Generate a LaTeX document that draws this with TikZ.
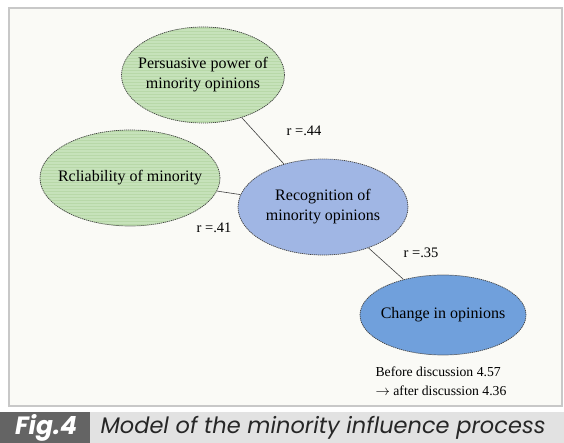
\documentclass[tikz,border=0pt]{standalone}
\usepackage{fontspec}
\setmainfont{Liberation Serif}
\newfontfamily\capfont{Poppins}
\usetikzlibrary{shapes.geometric}
\begin{document}
\begin{tikzpicture}[x=1pt,y=-1pt,
  every node/.style={font=\fontsize{16}{20}\selectfont},
  bubble/.style={ellipse, draw=black!75, dash pattern=on 1.2pt off 0.8pt, line width=0.7pt,
    inner sep=0pt},
  caption text/.style={label={[align=center]center:#1}},
  greenbubble/.style={bubble, fill=leafgreen,
    path picture={\foreach \k in {-60,-57,...,60}
      \draw[solid, stripe, line width=1.2pt] ([yshift=\k]path picture bounding box.west) -- ([yshift=\k]path picture bounding box.east);}},
  link/.style={draw=black!75, line width=0.6pt},
  rlabel/.style={font=\fontsize{14.5}{16}\selectfont}
]
\definecolor{leafgreen}{RGB}{184,216,168}
\definecolor{stripe}{RGB}{198,226,186}
\definecolor{paleblue}{RGB}{160,182,228}
\definecolor{midblue}{RGB}{112,160,220}
\definecolor{paper}{RGB}{250,250,246}
\definecolor{framegray}{RGB}{200,200,200}
\definecolor{tagdark}{RGB}{100,100,100}
\definecolor{barlight}{RGB}{226,226,226}

\useasboundingbox (0,0) rectangle (564,443);
\fill[white] (0,0) rectangle (564,443);
% panel
\draw[framegray, fill=paper, line width=1.2pt] (9,8) rectangle (562,406);

% ellipses (fixed size, text set as a centred label)
\node[greenbubble, minimum width=163pt, minimum height=96pt,
  caption text={Persuasive power of\\minority opinions}] (pp) at (203,75) {};
\node[greenbubble, minimum width=180pt, minimum height=96pt,
  caption text={Rcliability of minority}] (rel) at (130,178) {};
\node[bubble, fill=paleblue, minimum width=170pt, minimum height=96pt,
  caption text={Recognition of\\minority opinions}] (rec) at (323,207) {};
\node[bubble, fill=midblue, minimum width=166pt, minimum height=80pt,
  caption text={Change in opinions}] (chg) at (443,315) {};

% connectors
\path[link] (pp) -- (rec);
\path[link] (rel) -- (rec);
\path[link] (rec) -- (chg);

% correlation labels
\node[rlabel] (r1) at (304,131) {r =.44};
\node[rlabel] (r2) at (214,228) {r =.41};
\node[rlabel] (r3) at (421,253) {r =.35};

% result note
\node[font=\fontsize{13.7}{19}\selectfont, align=left, anchor=west] (note) at (372,381)
  {Before discussion 4.57\\$\rightarrow$ after discussion 4.36};

% caption bar
\fill[barlight] (90,412) rectangle (564,443);
\fill[tagdark] (0,412) rectangle (90,443);
\node[text=white, font=\capfont\bfseries\itshape\fontsize{25}{25}\selectfont] (tag) at (46,428) {Fig.4};
\node[anchor=west, text=black!85, font=\capfont\itshape\fontsize{22.5}{23}\selectfont] (cap) at (97,428) {Model of the minority influence process};
\end{tikzpicture}
\end{document}
